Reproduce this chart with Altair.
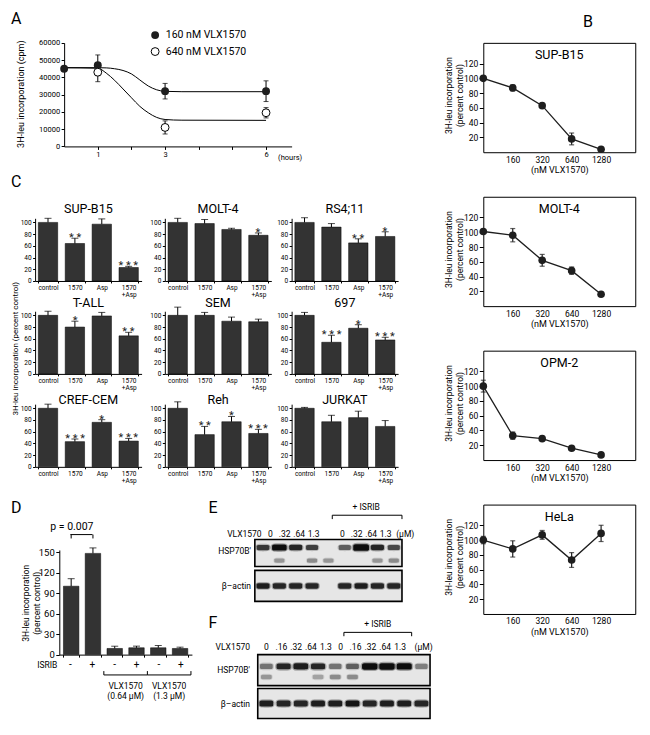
import json
import altair as alt
import pandas as pd

FONT = "Roboto"
S = 0.968
CW, CH = 632, 712
ONE = pd.DataFrame({"k": [0]})
INK = "#1e1e1e"
BAR = "#333333"


def X(v):
    return round(v * S, 2)


def Y(v):
    return round(v * S, 2)


# ------------------------------------------------------------------ data
# Panel A (cpm over time)
a_hours_160 = [0, 1, 3, 6]
a_cpm_160 = [45000, 47000, 32000, 32000]
a_err_160 = [0, 6000, 4500, 6000]
a_hours_640 = [1, 3, 6]
a_cpm_640 = [43000, 11000, 19500]
a_err_640 = [5500, 3800, 3000]
a_fit_hours = [0, 1, 1.25, 1.5, 1.75, 2, 2.25, 2.5, 2.75, 3, 3.5, 6]
a_fit_160 = [45600, 45600, 45500, 45000, 44000, 42000, 38500, 35000, 32800, 31900, 31700, 31700]
a_fit_640 = [45600, 45300, 42500, 38300, 33300, 28200, 23200, 19500, 16800, 15600, 15200, 15100]
a_x_ticks = [1, 2, 3, 4, 5, 6]
a_x_labels = [1, 3, 6]
a_y_ticks = [0, 10000, 20000, 30000, 40000, 50000, 60000]

# Panel B (dose response)
b_lines = ["SUP-B15", "MOLT-4", "OPM-2", "HeLa"]
b_index = [0, 1, 2, 3, 4]
b_tick_labels = ["", "160", "320", "640", "1280"]
b_values = [[100, 87, 63, 18, 4],
            [101, 96, 62, 48, 16],
            [100, 33, 29, 16, 7],
            [100, 88, 107, 73, 109]]
b_errors = [[2, 4, 2, 8, 1],
            [2, 9, 8, 5, 1],
            [8, 5, 2, 1, 1],
            [5, 11, 6, 10, 11]]
b_y_ticks = [20, 40, 60, 80, 100, 120]

# Panel C (bar panels)
c_lines = ["SUP-B15", "MOLT-4", "RS4;11", "T-ALL", "SEM", "697", "CREF-CEM", "Reh", "JURKAT"]
c_treat = ["control", "1570", "Asp", "1570+Asp"]
c_values = [[100, 64, 97, 23], [100, 98, 88, 78], [100, 92, 65, 76],
            [100, 80, 99, 65], [100, 100, 90, 89], [100, 54, 78, 58],
            [100, 43, 76, 44], [100, 55, 77, 57], [100, 77, 84, 69]]
c_err = [[7, 9, 9, 2], [7, 7, 2, 4], [8, 6, 7, 8],
         [7, 10, 6, 6], [14, 5, 7, 4.5], [5, 12, 6, 4.5],
         [7, 4.5, 4.5, 4.5], [11, 14, 9, 7], [1.5, 11, 11, 10]]
c_stars = [["", "**", "", "***"], ["", "", "", "*"], ["", "", "**", "*"],
           ["", "*", "", "**"], ["", "", "", ""], ["", "***", "*", "***"],
           ["", "***", "*", "***"], ["", "**", "*", "***"], ["", "", "", ""]]
c_y_ticks = [0, 20, 40, 60, 80, 100]

# Panel D
d_cats = ["ctl-", "ctl+", "v064-", "v064+", "v13-", "v13+"]
d_isrib = ["-", "+", "-", "+", "-", "+"]
d_values = [100, 148, 9, 10, 10, 9]
d_err = [11, 8, 3.3, 2.4, 3.3, 1.9]
d_y_ticks = [0, 30, 60, 90, 120, 150]
d_group_from = [2, 4]
d_group_to = [4, 6]
d_group_ends = [2, 4, 6]
d_group_mid = [3, 5]
d_group_line1 = ["VLX1570", "VLX1570"]
d_group_line2 = ["(0.64 \u03bcM)", "(1.3 \u03bcM)"]

# Panels E / F (blots)
e_lane_labels = ["0", ".32", ".64", "1.3", "", "0", ".32", ".64", "1.3"]
e_hsp_dark = [0.75, 1.0, 0.85, 0.7, 0.0, 0.55, 1.0, 0.85, 0.65]
e_hsp_amt = [0.95, 1.25, 1.0, 0.85, 0.0, 0.85, 1.45, 1.0, 0.85]
e_hsp_low_lanes = [1, 3, 4, 7, 8]
e_hsp_low_dark = [0.3, 0.35, 0.3, 0.3, 0.35]
e_act_dark = [0.9, 0.85, 0.85, 0.85, 0.0, 0.85, 0.9, 0.85, 0.85]

f_lane_labels = ["0", ".16", ".32", ".64", "1.3", "0", ".16", ".32", ".64", "1.3"]
f_hsp_dark = [0.45, 0.85, 0.9, 0.85, 0.45, 0.55, 1.0, 1.0, 1.0, 0.4]
f_hsp_amt = [0.85, 1.05, 1.15, 1.05, 0.8, 0.85, 1.25, 1.25, 1.2, 0.8]
f_hsp_low_lanes = [0, 3, 4, 5]
f_hsp_low_dark = [0.3, 0.25, 0.35, 0.35]
f_act_dark = [0.9, 0.85, 0.85, 0.9, 0.9, 0.95, 0.85, 0.9, 0.9, 0.85]


# ------------------------------------------------------------------ helpers
def text(t, x, y, size, align="center", angle=0, baseline="middle", lh=None):
    return alt.Chart(ONE).mark_text(
        text=t, align=align, baseline=baseline, angle=angle, font=FONT,
        fontSize=size, color="black", lineHeight=lh or round(size * 1.2, 1)
    ).encode(x=alt.value(X(x)), y=alt.value(Y(y)))


def hrule(x1, x2, y, w=1):
    return alt.Chart(ONE).mark_rule(color="black", strokeWidth=w).encode(
        x=alt.value(X(x1)), x2=alt.value(X(x2)), y=alt.value(Y(y)))


def vrule(x, y1, y2, w=1):
    return alt.Chart(ONE).mark_rule(color="black", strokeWidth=w).encode(
        x=alt.value(X(x)), y=alt.value(Y(y1)), y2=alt.value(Y(y2)))


def axis_left(xpos, values, size, fmt=None, tick=3):
    kw = dict(orient="left", offset=-X(xpos), values=values, title=None, grid=False,
              labelFont=FONT, labelFontSize=size, labelColor="black",
              domainColor="black", domainWidth=1, tickColor="black",
              tickSize=tick, tickWidth=1, labelPadding=1.5,
              labelOverlap=False, labelFlush=False)
    if fmt:
        kw["format"] = fmt
    return alt.Axis(**kw)


def axis_bottom(ypos, size=8, values=None, labelExpr=None, tick=3, ticks=True,
                tickBand=None, title=None, titleSize=9, titlePadding=2,
                labelPadding=1.5, labels=True):
    kw = dict(orient="bottom", offset=round(Y(ypos) - CH, 2), grid=False,
              labelFont=FONT, labelFontSize=size, labelColor="black",
              domainColor="black", domainWidth=1, tickColor="black",
              tickSize=tick, tickWidth=1, labelPadding=labelPadding,
              ticks=ticks, labels=labels, labelAngle=0,
              labelOverlap=False, labelFlush=False, labelLineHeight=round(size * 1.0, 1))
    if values is not None:
        kw["values"] = values
    if labelExpr:
        kw["labelExpr"] = labelExpr
    if tickBand:
        kw["tickBand"] = tickBand
    if title:
        kw.update(title=title, titleFont=FONT, titleFontSize=titleSize,
                  titleFontWeight="normal", titlePadding=titlePadding, titleColor="black")
    else:
        kw["title"] = None
    return alt.Axis(**kw)


def axis_frame(orient, pos):
    off = -Y(pos) if orient == "top" else round(X(pos) - CW, 2)
    return alt.Axis(orient=orient, offset=off, ticks=False, labels=False, title=None,
                    grid=False, domainColor="black", domainWidth=1)


layers = []

# ------------------------------------------------------------------ panel A
a_x = alt.Scale(domain=[0, 6.76], range=[X(58), X(293)], nice=False, zero=False)
a_y = alt.Scale(domain=[0, 60000], range=[Y(143), Y(36)], nice=False, zero=False)
n_fit = len(a_fit_hours)
fit_df = pd.DataFrame({"hours": a_fit_hours + a_fit_hours,
                       "cpm": a_fit_160 + a_fit_640,
                       "series": ["160"] * n_fit + ["640"] * n_fit})
pts_df = pd.DataFrame({"hours": a_hours_160 + a_hours_640,
                       "cpm": a_cpm_160 + a_cpm_640,
                       "err": a_err_160 + a_err_640,
                       "series": ["160"] * len(a_hours_160) + ["640"] * len(a_hours_640)})
a_lab_expr = "indexof(" + json.dumps(a_x_labels) + ", datum.value) >= 0 ? datum.label : ''"

layers.append(alt.Chart(fit_df).mark_line(interpolate="monotone", color="black", strokeWidth=1).encode(
    x=alt.X("hours:Q", scale=a_x, axis=axis_bottom(143, size=7.5, values=a_x_ticks,
                                                   labelExpr=a_lab_expr, tick=3)),
    y=alt.Y("cpm:Q", scale=a_y, axis=axis_left(58, a_y_ticks, 7.5, fmt="d")),
    detail="series:N"))
a_err_base = alt.Chart(pts_df).transform_filter("datum.err > 0").transform_calculate(
    lo="datum.cpm - datum.err", hi="datum.cpm + datum.err")
layers.append(a_err_base.mark_rule(color="black", strokeWidth=1).encode(
    x=alt.X("hours:Q", scale=a_x, axis=None),
    y=alt.Y("lo:Q", scale=a_y, axis=None), y2="hi:Q"))
layers.append(a_err_base.transform_fold(["lo", "hi"], as_=["end", "v"]).mark_tick(
    orient="horizontal", size=5, thickness=1, color="black").encode(
    x=alt.X("hours:Q", scale=a_x, axis=None),
    y=alt.Y("v:Q", scale=a_y, axis=None)))
layers.append(alt.Chart(pts_df).transform_filter("datum.series == '160'").mark_point(
    filled=True, size=62, color=INK, opacity=1).encode(
    x=alt.X("hours:Q", scale=a_x, axis=None), y=alt.Y("cpm:Q", scale=a_y, axis=None)))
layers.append(alt.Chart(pts_df).transform_filter("datum.series == '640'").mark_point(
    filled=True, size=62, fill="white", stroke="black", strokeWidth=1, opacity=1).encode(
    x=alt.X("hours:Q", scale=a_x, axis=None), y=alt.Y("cpm:Q", scale=a_y, axis=None)))
# legend
layers.append(alt.Chart(ONE).mark_point(filled=True, size=62, color=INK, opacity=1).encode(
    x=alt.value(X(152)), y=alt.value(Y(28))))
layers.append(alt.Chart(ONE).mark_point(filled=True, size=62, fill="white", stroke="black",
                                        strokeWidth=1, opacity=1).encode(
    x=alt.value(X(152)), y=alt.value(Y(45))))
layers.append(text("160 nM VLX1570", 163, 28, 10.5, align="left"))
layers.append(text("640 nM VLX1570", 163, 45, 10.5, align="left"))
layers.append(text("(hours)", 279, 155, 7.5, align="left"))
layers.append(text("3H-leu incorporation  (cpm)", 13, 89, 9, angle=270))
layers.append(text("A", 3, 11, 16, align="left"))

# ------------------------------------------------------------------ panel B
B_TOPS = [36, 195, 354, 513]
B_H = 113
B_XMAX = 5.16
B_YMAX = 148
b_lab_expr = json.dumps(b_tick_labels) + "[datum.value]"
layers.append(text("B", 594, 14, 16, align="left"))
for i, name in enumerate(b_lines):
    top = B_TOPS[i]
    bot = top + B_H
    xs = alt.Scale(domain=[0, B_XMAX], range=[X(491), X(648)], nice=False, zero=False)
    ys = alt.Scale(domain=[0, B_YMAX], range=[Y(bot), Y(top)], nice=False, zero=False)
    df = pd.DataFrame({"idx": b_index, "val": b_values[i], "err": b_errors[i]})
    layers.append(alt.Chart(df).mark_line(color=INK, strokeWidth=1.3).encode(
        x=alt.X("idx:Q", scale=xs, axis=axis_bottom(bot, size=8.5, values=[1, 2, 3, 4],
                                                    labelExpr=b_lab_expr, ticks=False,
                                                    title="(nM VLX1570)", titleSize=9,
                                                    titlePadding=2, labelPadding=3)),
        y=alt.Y("val:Q", scale=ys, axis=axis_left(491, b_y_ticks, 8.5, tick=4))))
    eb = alt.Chart(df).transform_calculate(lo="datum.val - datum.err", hi="datum.val + datum.err")
    layers.append(eb.mark_rule(color=INK, strokeWidth=1.2).encode(
        x=alt.X("idx:Q", scale=xs, axis=None),
        y=alt.Y("lo:Q", scale=ys, axis=None), y2="hi:Q"))
    layers.append(eb.transform_fold(["lo", "hi"], as_=["end", "v"]).mark_tick(
        orient="horizontal", size=5, thickness=1.2, color=INK).encode(
        x=alt.X("idx:Q", scale=xs, axis=None), y=alt.Y("v:Q", scale=ys, axis=None)))
    layers.append(alt.Chart(df).mark_circle(size=58, color=INK, opacity=1).encode(
        x=alt.X("idx:Q", scale=xs, axis=axis_frame("top", top)),
        y=alt.Y("val:Q", scale=ys, axis=axis_frame("right", 648))))
    layers.append(text(name, 569.5, top + 13, 12.5))
    layers.append(text(["3H-leu incorporation", "(percent control)"], 456, (top + bot) / 2 - 2,
                       8.5, angle=270, lh=10.5))

# ------------------------------------------------------------------ panel C
C_X0 = [28, 162, 293]
C_ZERO = [282, 378, 474]
C_TITLE = [208, 305, 405]
C_W = 110
C_PX = 0.605
C_YMAX = 107
c_lab_expr = "datum.value == '1570+Asp' ? ['1570', '+Asp'] : datum.label"
layers.append(text("C", 3, 180, 16, align="left"))
layers.append(text("3H-leu incorporation (percent control)", 8, 352, 8, angle=270))
for k, name in enumerate(c_lines):
    r, c = divmod(k, 3)
    x0 = C_X0[c]
    zero = C_ZERO[r]
    xs = alt.Scale(domain=c_treat, range=[X(x0), X(x0 + C_W)], paddingInner=0.28, paddingOuter=0.12)
    ys = alt.Scale(domain=[0, C_YMAX], range=[Y(zero), Y(zero - C_YMAX * C_PX)], nice=False, zero=False)
    df = pd.DataFrame({"treat": c_treat, "val": c_values[k], "err": c_err[k],
                       "stars": [" ".join(s) for s in c_stars[k]]})
    layers.append(alt.Chart(df).mark_bar(color=BAR, stroke="black", strokeWidth=0.5).encode(
        x=alt.X("treat:N", sort=c_treat, scale=xs,
                axis=axis_bottom(zero, size=6.5, labelExpr=c_lab_expr, tick=2,
                                 tickBand="extent", labelPadding=2)),
        y=alt.Y("val:Q", scale=ys, axis=axis_left(x0, c_y_ticks, 6.5, tick=2.5))))
    eb = alt.Chart(df).transform_calculate(hi="datum.val + datum.err")
    layers.append(eb.mark_rule(color="black", strokeWidth=1).encode(
        x=alt.X("treat:N", sort=c_treat, scale=xs, axis=None),
        y=alt.Y("val:Q", scale=ys, axis=None), y2="hi:Q"))
    layers.append(eb.mark_tick(orient="horizontal", size=7, thickness=1, color="black").encode(
        x=alt.X("treat:N", sort=c_treat, scale=xs, axis=None),
        y=alt.Y("hi:Q", scale=ys, axis=None)))
    layers.append(eb.transform_filter("datum.stars != ''").mark_text(
        baseline="alphabetic", dy=3, font=FONT, fontSize=11, color="#222").encode(
        x=alt.X("treat:N", sort=c_treat, scale=xs, axis=None),
        y=alt.Y("hi:Q", scale=ys, axis=None), text="stars:N"))
    layers.append(text(name, x0 + C_W / 2, C_TITLE[r], 12.5))

# ------------------------------------------------------------------ panel D
D_ZERO = 668
D_PX = 0.7067
D_YMAX = 153
d_band = alt.Scale(domain=d_cats, range=[X(53), X(190)], paddingInner=0.29, paddingOuter=0.19)
d_slot = alt.Scale(domain=[0, 6], range=[X(54), X(189)], nice=False, zero=False)
d_y = alt.Scale(domain=[0, D_YMAX], range=[Y(D_ZERO), Y(D_ZERO - D_YMAX * D_PX)], nice=False, zero=False)
d_df = pd.DataFrame({"cat": d_cats, "val": d_values, "err": d_err, "sign": d_isrib})
layers.append(text("D", 3, 517, 16, align="left"))
layers.append(alt.Chart(d_df).mark_bar(color=BAR, stroke="black", strokeWidth=0.5).encode(
    x=alt.X("cat:N", sort=d_cats, scale=d_band,
            axis=axis_bottom(D_ZERO, labels=False, tick=2.5, tickBand="extent")),
    y=alt.Y("val:Q", scale=d_y, axis=axis_left(53, d_y_ticks, 9.5, tick=3.5))))
d_eb = alt.Chart(d_df).transform_calculate(hi="datum.val + datum.err")
layers.append(d_eb.mark_rule(color="black", strokeWidth=1).encode(
    x=alt.X("cat:N", sort=d_cats, scale=d_band, axis=None),
    y=alt.Y("val:Q", scale=d_y, axis=None), y2="hi:Q"))
layers.append(d_eb.mark_tick(orient="horizontal", size=7, thickness=1, color="black").encode(
    x=alt.X("cat:N", sort=d_cats, scale=d_band, axis=None),
    y=alt.Y("hi:Q", scale=d_y, axis=None)))
layers.append(alt.Chart(d_df).mark_text(font=FONT, fontSize=10, color="black").encode(
    x=alt.X("cat:N", sort=d_cats, scale=d_band, axis=None),
    y=alt.value(Y(679)), text="sign:N"))
layers.append(text("ISRIB", 51, 679, 8.5, align="right"))
# p-value bracket between first two bars
p_df = pd.DataFrame({"cat": d_cats[:2]})
layers.append(alt.Chart(p_df).mark_line(color="black", strokeWidth=1).encode(
    x=alt.X("cat:N", sort=d_cats, scale=d_band, axis=None), y=alt.value(Y(544))))
layers.append(alt.Chart(p_df).mark_rule(color="black", strokeWidth=1).encode(
    x=alt.X("cat:N", sort=d_cats, scale=d_band, axis=None),
    y=alt.value(Y(544)), y2=alt.value(Y(548))))
layers.append(text("p = 0.007", 66, 536, 10.5))
# VLX1570 group brackets
g_df = pd.DataFrame({"a": d_group_from, "b": d_group_to})
layers.append(alt.Chart(g_df).mark_rule(color="black", strokeWidth=1).encode(
    x=alt.X("a:Q", scale=d_slot, axis=None), x2="b:Q", y=alt.value(Y(689))))
layers.append(alt.Chart(pd.DataFrame({"e": d_group_ends})).mark_rule(color="black", strokeWidth=1).encode(
    x=alt.X("e:Q", scale=d_slot, axis=None), y=alt.value(Y(689)), y2=alt.value(Y(685))))
gl_df = pd.DataFrame({"m": d_group_mid, "l1": d_group_line1, "l2": d_group_line2})
layers.append(alt.Chart(gl_df).mark_text(font=FONT, fontSize=8.5, color="black").encode(
    x=alt.X("m:Q", scale=d_slot, axis=None), y=alt.value(Y(700)), text="l1:N"))
layers.append(alt.Chart(gl_df).mark_text(font=FONT, fontSize=8.5, color="black").encode(
    x=alt.X("m:Q", scale=d_slot, axis=None), y=alt.value(Y(711)), text="l2:N"))
layers.append(text(["3H-leu incorporation", "(percent control)"], 19, 615, 8.5, angle=270, lh=10.5))

# ------------------------------------------------------------------ panels E / F
BAND = ("M-1,-0.2 C-1,-0.42 -0.75,-0.42 -0.5,-0.42 L0.5,-0.42 C0.75,-0.42 1,-0.42 1,-0.2 "
        "L1,0.2 C1,0.42 0.75,0.42 0.5,0.42 L-0.5,0.42 C-0.75,0.42 -1,0.42 -1,0.2 Z")
HALO = ("M-1,0 C-1,-0.5 -0.6,-0.5 0,-0.5 C0.6,-0.5 1,-0.5 1,0 "
        "C1,0.5 0.6,0.5 0,0.5 C-0.6,0.5 -1,0.5 -1,0 Z")


def blot(n, x0, x1, top, bot, bands, size_max):
    xs = alt.Scale(domain=[-0.5, n - 0.5], range=[X(x0), X(x1)], nice=False, zero=False)
    ys = alt.Scale(domain=[0, 1], range=[Y(bot), Y(top)], nice=False, zero=False)
    box = alt.Chart(ONE).mark_rect(fill="#e6e6e6", stroke="black", strokeWidth=1.6).encode(
        x=alt.XDatum(-0.5, type="quantitative", scale=xs, axis=None),
        x2=alt.X2Datum(n - 0.5),
        y=alt.YDatum(0, type="quantitative", scale=ys, axis=None),
        y2=alt.Y2Datum(1))
    base = alt.Chart(bands).transform_filter("datum.dark > 0")
    halo = base.mark_point(shape=HALO, filled=True, color="#222222", strokeWidth=0).encode(
        x=alt.X("lane:Q", scale=xs, axis=None),
        y=alt.Y("pos:Q", scale=ys, axis=None),
        size=alt.Size("amt:Q", scale=alt.Scale(domain=[0, 1], range=[0, size_max * 1.45]), legend=None),
        opacity=alt.Opacity("dark:Q", scale=alt.Scale(domain=[0, 1], range=[0, 0.35]), legend=None))
    core = base.mark_point(shape=BAND, filled=True, color="#0d0d0d", strokeWidth=0).encode(
        x=alt.X("lane:Q", scale=xs, axis=None),
        y=alt.Y("pos:Q", scale=ys, axis=None),
        size=alt.Size("amt:Q", scale=alt.Scale(domain=[0, 1], range=[0, size_max]), legend=None),
        opacity=alt.Opacity("dark:Q", scale=alt.Scale(domain=[0, 1], range=[0, 1]), legend=None))
    return [box, halo, core]


def lane_labels(labels, x_first, x_last, y):
    df = pd.DataFrame({"i": list(range(len(labels))), "t": labels})
    xs = alt.Scale(domain=[0, len(labels) - 1], range=[X(x_first), X(x_last)], nice=False, zero=False)
    return alt.Chart(df).transform_filter("datum.t != ''").mark_text(
        font=FONT, fontSize=8.5, color="black").encode(
        x=alt.X("i:Q", scale=xs, axis=None), y=alt.value(Y(y)), text="t:N")


# E
e_n = len(e_lane_labels)
e_hsp = pd.DataFrame({"lane": list(range(e_n)) + e_hsp_low_lanes,
                      "pos": [0.7] * e_n + [0.22] * len(e_hsp_low_lanes),
                      "amt": e_hsp_amt + [0.6] * len(e_hsp_low_lanes),
                      "dark": e_hsp_dark + e_hsp_low_dark})
e_act = pd.DataFrame({"lane": list(range(e_n)), "pos": [0.5] * e_n,
                      "amt": [1.0] * e_n, "dark": e_act_dark})
layers.append(text("E", 207, 517, 16, align="left"))
layers.append(text("+ ISRIB", 370, 516, 8.5))
layers.append(hrule(335, 407, 524))
layers.append(vrule(335, 524, 528))
layers.append(vrule(407, 524, 528))
layers.append(text("VLX1570", 262, 543, 8.5, align="right"))
layers.append(lane_labels(e_lane_labels, 271, 390, 543))
layers.append(text("(\u03bcM)", 401, 543, 8.5, align="left"))
layers += blot(e_n, 255, 407, 549, 577, e_hsp, 170)
layers += blot(e_n, 255, 407, 581, 613, e_act, 170)
layers.append(text("HSP70B'", 251, 561, 8.5, align="right"))
layers.append(text("\u03b2\u2013actin", 251, 597, 8.5, align="right"))

# F
f_n = len(f_lane_labels)
f_hsp = pd.DataFrame({"lane": list(range(f_n)) + f_hsp_low_lanes,
                      "pos": [0.62] * f_n + [0.28] * len(f_hsp_low_lanes),
                      "amt": f_hsp_amt + [0.6] * len(f_hsp_low_lanes),
                      "dark": f_hsp_dark + f_hsp_low_dark})
f_act = pd.DataFrame({"lane": list(range(f_n)), "pos": [0.5] * f_n,
                      "amt": [1.0] * f_n, "dark": f_act_dark})
layers.append(text("F", 207, 635, 16, align="left"))
layers.append(text("+ ISRIB", 382, 636, 8.5))
layers.append(hrule(347, 417, 645))
layers.append(vrule(347, 645, 649))
layers.append(vrule(417, 645, 649))
layers.append(text("VLX1570", 250, 660, 8.5, align="right"))
layers.append(lane_labels(f_lane_labels, 267, 405, 660))
layers.append(text("(\u03bcM)", 420, 660, 8.5, align="left"))
layers += blot(f_n, 258, 436, 668, 700, f_hsp, 190)
layers += blot(f_n, 258, 436, 703, 734, f_act, 190)
layers.append(text("HSP70B'", 250, 684, 8.5, align="right"))
layers.append(text("\u03b2\u2013actin", 250, 719, 8.5, align="right"))

# ------------------------------------------------------------------ assemble
chart = alt.layer(*layers).resolve_scale(
    x="independent", y="independent", size="independent", opacity="independent"
).properties(
    width=CW, height=CH, padding=0, autosize=alt.AutoSizeParams(type="none"), background="white"
).configure_view(stroke=None)

chart.save("out.html", embed_options={"renderer": "svg", "actions": False})
